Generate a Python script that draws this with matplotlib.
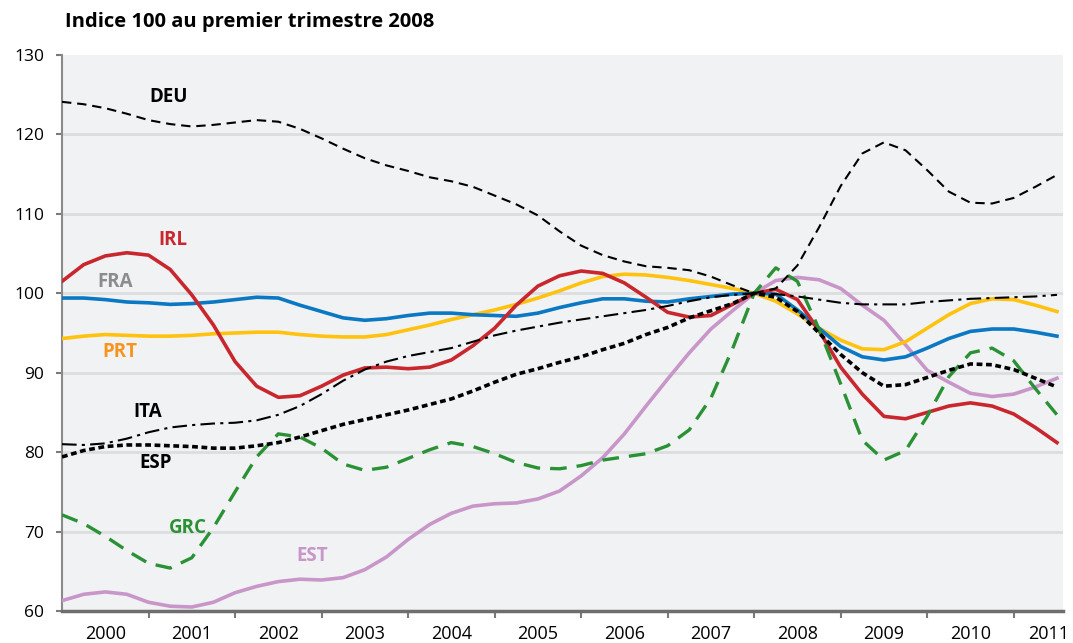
import numpy as np
from matplotlib import pyplot as plt

# quarterly index, 2008 Q1 = 100, from 2000 Q1 to 2011 Q3
quarters = np.arange(47) / 4 + 2000

deu = [124.1, 123.8, 123.3, 122.6, 121.8, 121.3, 121.0, 121.2, 121.5, 121.8, 121.6, 120.7,
       119.5, 118.2, 117.0, 116.1, 115.4, 114.6, 114.1, 113.4, 112.3, 111.2, 109.8, 107.8,
       106.0, 104.8, 104.0, 103.4, 103.2, 102.9, 102.1, 101.0, 100.0, 100.6, 103.5, 108.3,
       113.5, 117.6, 119.0, 118.0, 115.5, 112.8, 111.4, 111.3, 112.0, 113.4, 114.9]
esp = [79.4, 80.2, 80.7, 80.9, 80.9, 80.8, 80.7, 80.5, 80.5, 80.8, 81.2, 81.9,
       82.7, 83.5, 84.1, 84.7, 85.3, 86.0, 86.7, 87.7, 88.8, 89.8, 90.5, 91.3,
       92.0, 92.9, 93.7, 94.8, 95.7, 96.9, 97.8, 98.7, 100.0, 99.5, 97.7, 95.0,
       92.3, 90.0, 88.3, 88.5, 89.4, 90.3, 91.1, 91.0, 90.4, 89.3, 88.2]
ita = [81.0, 80.9, 81.1, 81.7, 82.5, 83.1, 83.4, 83.6, 83.7, 84.0, 84.7, 85.8,
       87.3, 89.0, 90.4, 91.4, 92.1, 92.6, 93.1, 93.9, 94.7, 95.3, 95.8, 96.3,
       96.7, 97.1, 97.5, 97.9, 98.4, 99.0, 99.5, 99.8, 100.0, 99.9, 99.6, 99.2,
       98.8, 98.6, 98.6, 98.6, 98.9, 99.1, 99.3, 99.4, 99.5, 99.6, 99.8]
fra = [99.4, 99.4, 99.2, 98.9, 98.8, 98.6, 98.7, 98.9, 99.2, 99.5, 99.4, 98.5,
       97.7, 96.9, 96.6, 96.8, 97.2, 97.5, 97.5, 97.3, 97.2, 97.1, 97.5, 98.2,
       98.8, 99.3, 99.3, 99.0, 98.9, 99.3, 99.6, 99.9, 100.0, 99.9, 97.9, 95.6,
       93.3, 92.0, 91.6, 92.0, 93.1, 94.3, 95.2, 95.5, 95.5, 95.1, 94.6]
prt = [94.3, 94.6, 94.8, 94.7, 94.6, 94.6, 94.7, 94.9, 95.0, 95.1, 95.1, 94.8,
       94.6, 94.5, 94.5, 94.8, 95.4, 96.0, 96.7, 97.3, 97.9, 98.6, 99.4, 100.3,
       101.3, 102.1, 102.4, 102.3, 102.0, 101.6, 101.1, 100.6, 100.0, 99.0, 97.4, 95.6,
       94.1, 93.0, 92.9, 93.9, 95.6, 97.3, 98.7, 99.3, 99.2, 98.5, 97.7]
irl = [101.5, 103.6, 104.7, 105.1, 104.8, 103.0, 99.8, 96.0, 91.4, 88.3, 86.9, 87.1,
       88.3, 89.7, 90.6, 90.7, 90.5, 90.7, 91.6, 93.4, 95.6, 98.5, 100.9, 102.2,
       102.8, 102.5, 101.3, 99.5, 97.6, 97.0, 97.2, 98.6, 100.0, 100.5, 99.2, 95.3,
       90.7, 87.3, 84.5, 84.2, 85.0, 85.8, 86.2, 85.8, 84.8, 83.1, 81.2]
grc = [72.1, 71.0, 69.4, 67.6, 66.0, 65.4, 66.7, 70.5, 75.0, 79.4, 82.3, 81.9,
       80.5, 78.5, 77.7, 78.1, 79.2, 80.3, 81.2, 80.7, 79.8, 78.7, 78.0, 77.9,
       78.3, 79.0, 79.4, 79.8, 80.8, 82.8, 86.8, 93.0, 100.0, 103.2, 101.5, 95.5,
       88.6, 81.5, 79.0, 80.2, 84.5, 89.5, 92.5, 93.1, 91.5, 88.0, 84.7]
est = [61.3, 62.1, 62.4, 62.1, 61.1, 60.6, 60.5, 61.1, 62.3, 63.1, 63.7, 64.0,
       63.9, 64.2, 65.2, 66.8, 69.0, 70.9, 72.3, 73.2, 73.5, 73.6, 74.1, 75.1,
       77.0, 79.3, 82.3, 85.8, 89.2, 92.5, 95.5, 97.8, 100.0, 101.6, 102.0, 101.7,
       100.6, 98.5, 96.6, 93.5, 90.3, 88.8, 87.4, 87.0, 87.3, 88.2, 89.3]

years = list(range(2000, 2012))
yticks = [60, 70, 80, 90, 100, 110, 120, 130]

plt.rcParams['font.family'] = ['Open Sans', 'DejaVu Sans']

fig = plt.figure(figsize=(10.73, 6.43), dpi=100)
ax = fig.add_axes([0.0578, 0.0498, 0.9329, 0.8647])
ax.set_facecolor('#f1f2f4')

for v in yticks[1:-1]:
    ax.axhline(v, color='#dcdddf', lw=2, zorder=0)

ax.plot(quarters, est, color='#c896c8', lw=2.6, zorder=3)
ax.plot(quarters, prt, color='#ffc20e', lw=2.6, zorder=3)
ax.plot(quarters, fra, color='#0a78c2', lw=2.6, zorder=3)
ax.plot(quarters, irl, color='#c8272e', lw=2.6, zorder=3)
ax.plot(quarters, grc, color='#2a9134', lw=2.4, dashes=(5, 3), zorder=4)
ax.plot(quarters, ita, color='black', lw=1.5, dashes=(7, 2.5, 1.5, 2.5), zorder=4)
ax.plot(quarters, esp, color='black', lw=2.6, dashes=(1.6, 1.0), zorder=4)
ax.plot(quarters, deu, color='black', lw=1.5, dashes=(4.5, 2.8), zorder=4)

lab = dict(fontsize=13.5, fontweight='bold', ha='center', va='center')
ax.text(2001.23, 124.7, 'DEU', color='black', **lab)
ax.text(2001.28, 106.7, 'IRL', color='#c8272e', **lab)
ax.text(2000.61, 101.4, 'FRA', color='#8c8c8c', **lab)
ax.text(2000.67, 92.6, 'PRT', color='#f7941d', **lab)
ax.text(2000.99, 85.0, 'ITA', color='black', **lab)
ax.text(2001.08, 78.6, 'ESP', color='black', **lab)
ax.text(2001.46, 70.4, 'GRC', color='#2a9134', **lab)
ax.text(2002.89, 66.9, 'EST', color='#c896c8', **lab)

ax.set_xlim(2000, 2011.57)
ax.set_ylim(60, 130)
ax.set_yticks(yticks)
# year labels sit in the middle of each year; the last one is pulled in to fit
label_pos = [y + 0.5 for y in years]
label_pos[-1] = 2011.40
ax.set_xticks(label_pos)
ax.set_xticklabels([str(y) for y in years])
ax.set_xticks(years[1:], minor=True)
ax.tick_params(axis='x', which='major', length=0, labelsize=13, pad=10)
ax.tick_params(axis='x', which='minor', length=5, width=1.5, color='#7a7a7a')
ax.tick_params(axis='y', length=4, width=1.5, color='#7a7a7a', labelsize=12.5, pad=9)

for s in ['top', 'right']:
    ax.spines[s].set_visible(False)
ax.spines['left'].set_color('#8a8a8a')
ax.spines['left'].set_linewidth(1.5)
ax.spines['bottom'].set_color('#6e6e6e')
ax.spines['bottom'].set_linewidth(2.5)

fig.text(65 / 1073, 1 - 22 / 643, 'Indice 100 au premier trimestre 2008',
         fontsize=14.5, fontweight='bold', va='center', ha='left')

fig.savefig('out.png', dpi=100)
